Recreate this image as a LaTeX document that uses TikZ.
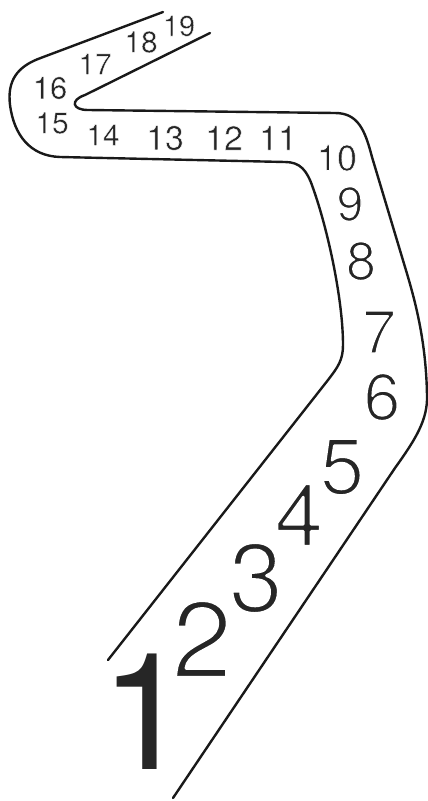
\documentclass[tikz,border=0pt]{standalone}
\usepackage{fontspec}
\setmainfont{TeX Gyre Heros}
% thin a glyph by stroking its outline in white (text render mode 2)
\newcommand{\thindig}[2]{\special{pdf:literal direct 1 1 1 RG 1 j #1 w 2 Tr}#2\special{pdf:literal direct 0 Tr}}
\begin{document}
\begin{tikzpicture}[x=1pt,y=-1pt,
  road/.style={draw=black!90, line width=2.4pt, line cap=round, line join=round},
  num/.style={inner sep=0pt, outer sep=0pt, anchor=center, text=black!85}]
\useasboundingbox (0,0) rectangle (428,801);
% left / inner edge of the road
\draw[road] (108,660) -- (328,380) .. controls (338,367) and (343,360) .. (343,345)
  .. controls (343,300) and (328,230) .. (313,188)
  .. controls (307,170) and (300,162) .. (285,162) -- (60,157)
  .. controls (30,156) and (14,135) .. (10,105)
  .. controls (7,80) and (18,67) .. (38,59) -- (163,12);
% right / outer edge of the road
\draw[road] (173,798) -- (395,468) .. controls (415,440) and (428,420) .. (427,395)
  .. controls (426,340) and (415,300) .. (405,267) -- (372,157)
  .. controls (365,130) and (358,113) .. (335,113) -- (88,110)
  .. controls (72,110) and (70,100) .. (85,95) -- (210,33);
% numbers
\node[num, font=\fontsize{163}{163}\selectfont] (n1) at (146,712) {1};
\node[num, font=\fontsize{109}{109}\selectfont] (n2) at (202,639) {\thindig{3.3}{2}};
\node[num, font=\fontsize{98}{98}\selectfont] (n3) at (256,578) {\thindig{2.9}{3}};
\node[num, font=\fontsize{88}{88}\selectfont] (n4) at (299,515) {\thindig{2.6}{4}};
\node[num, font=\fontsize{80}{80}\selectfont] (n5) at (342,467) {\thindig{2.4}{5}};
\node[num, font=\fontsize{66}{66}\selectfont] (n6) at (382,397) {\thindig{2.0}{6}};
\node[num, font=\fontsize{61}{61}\selectfont] (n7) at (379,332) {\thindig{1.8}{7}};
\node[num, font=\fontsize{54}{54}\selectfont] (n8) at (361,261) {\thindig{1.5}{8}};
\node[num, font=\fontsize{48}{48}\selectfont] (n9) at (350,204) {\thindig{1.3}{9}};
\node[num, font=\fontsize{36}{36}\selectfont] (n10) at (337,158) {\thindig{0.6}{10}};
\node[num, font=\fontsize{34}{34}\selectfont] (n11) at (278,138) {\thindig{0.5}{11}};
\node[num, font=\fontsize{34}{34}\selectfont] (n12) at (224,138) {\thindig{0.5}{12}};
\node[num, font=\fontsize{34}{34}\selectfont] (n13) at (165,138) {\thindig{0.5}{13}};
\node[num, font=\fontsize{30}{30}\selectfont] (n14) at (103,135) {\thindig{0.4}{14}};
\node[num, font=\fontsize{30}{30}\selectfont] (n15) at (52,123) {\thindig{0.4}{15}};
\node[num, font=\fontsize{31}{31}\selectfont] (n16) at (50,88) {\thindig{0.4}{16}};
\node[num, font=\fontsize{30}{30}\selectfont] (n17) at (95,64) {\thindig{0.4}{17}};
\node[num, font=\fontsize{30}{30}\selectfont] (n18) at (141,42) {\thindig{0.4}{18}};
\node[num, font=\fontsize{29}{29}\selectfont] (n19) at (179,26) {\thindig{0.4}{19}};
\end{tikzpicture}
\end{document}
